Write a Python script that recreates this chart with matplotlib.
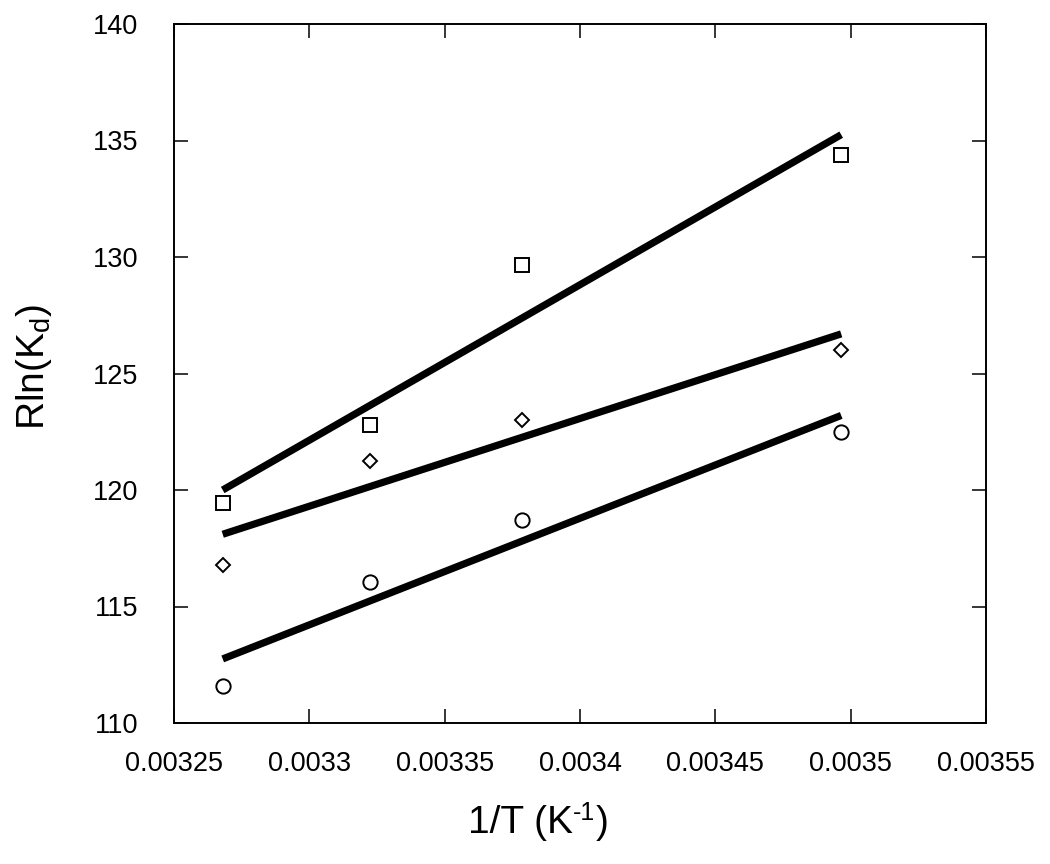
import matplotlib
matplotlib.use("Agg")
import matplotlib.pyplot as plt
import numpy as np

plt.rcParams['font.family'] = ['Liberation Sans', 'DejaVu Sans']
plt.rcParams['mathtext.fontset'] = 'custom'
plt.rcParams['mathtext.rm'] = 'Liberation Sans'
plt.rcParams['mathtext.it'] = 'Liberation Sans'
plt.rcParams['axes.unicode_minus'] = False

# 1/T values (K^-1)
inv_T = [0.0032680, 0.0033223, 0.0033784, 0.0034965]

# Rln(Kd) data
squares = [119.43, 122.79, 129.67, 134.36]
diamonds = [116.78, 121.24, 123.00, 126.00]
circles = [111.59, 116.05, 118.71, 122.50]

# fitted lines, values at the first and last 1/T
fit_x = [inv_T[0], inv_T[-1]]
fit_squares = [120.0, 135.25]
fit_diamonds = [118.1, 126.7]
fit_circles = [112.75, 123.2]

xticks = [0.00325, 0.0033, 0.00335, 0.0034, 0.00345, 0.0035, 0.00355]
xticklabels = ['0.00325', '0.0033', '0.00335', '0.0034', '0.00345', '0.0035', '0.00355']
yticks = [110, 115, 120, 125, 130, 135, 140]

fig = plt.figure(figsize=(10.5, 8.64), dpi=100)
ax = fig.add_axes([174/1050, 1-723/864, (986-174)/1050, (723-24)/864])

for fy in (fit_squares, fit_diamonds, fit_circles):
    ax.plot(fit_x, fy, color='black', lw=5.2, solid_capstyle='butt', zorder=2)

ax.plot(inv_T, squares, ls='none', marker='s', ms=10.2, mfc='white', mec='black', mew=1.4, zorder=3)
ax.plot(inv_T, diamonds, ls='none', marker='D', ms=7.2, mfc='white', mec='black', mew=1.4, zorder=3)
ax.plot(inv_T, circles, ls='none', marker='o', ms=10.3, mfc='white', mec='black', mew=1.4, zorder=3)

ax.set_xlim(0.00325, 0.00355)
ax.set_ylim(110, 140)
ax.set_xticks(xticks)
ax.set_xticklabels(xticklabels)
ax.set_yticks(yticks)

ax.tick_params(direction='in', length=10, width=1.1, top=True, right=True,
               labelsize=19.5, colors='black')
ax.tick_params(axis='x', pad=20)
ax.tick_params(axis='y', pad=26)
for s in ax.spines.values():
    s.set_linewidth(1.4)

# x label built from plain text plus a raised "-1" (hyphen as in the reference)
lx = 468
fig_w, fig_h = 1050, 864
t1 = fig.text(lx/fig_w, 1-833/fig_h, '1/T (K', fontsize=28, va='baseline', ha='left')
fig.canvas.draw()
r = fig.canvas.get_renderer()
bb = t1.get_window_extent(r)
t2 = fig.text(bb.x1/fig_w, (1-833/fig_h) + 13/fig_h, '-1', fontsize=18, va='baseline', ha='left')
bb2 = t2.get_window_extent(r)
fig.text(bb2.x1/fig_w, 1-833/fig_h, ')', fontsize=28, va='baseline', ha='left')

ax.set_ylabel(r'Rln(K$_{\mathregular{d}}$)', fontsize=28)
ax.yaxis.set_label_coords(-(174-34)/812, 0.51)
ax.yaxis.label.set_verticalalignment('center')

fig.savefig('out.png', dpi=100)
